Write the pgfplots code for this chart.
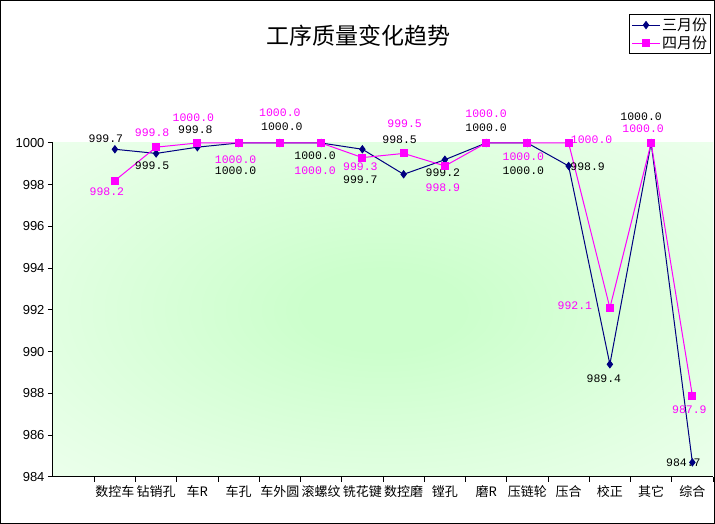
\documentclass[border=0pt]{standalone}
\usepackage{fontspec}
\setmainfont{Liberation Sans}
\newfontfamily\cjk{Noto Sans CJK SC}
\newfontfamily\mono{Liberation Mono}
\usepackage{pgfplots}
\usepackage{pgfplotstable}
\pgfplotsset{compat=1.18}
\definecolor{navy}{RGB}{0,0,128}
\definecolor{mag}{RGB}{255,0,255}
\definecolor{bgc}{RGB}{204,255,204}
\definecolor{bgm}{RGB}{228,255,228}
\definecolor{bge}{RGB}{250,255,250}
\pgfdeclareradialshading{bggrad}{\pgfpointorigin}{color(0bp)=(bgc); color(6bp)=(bgc); color(28bp)=(bgm); color(50bp)=(bge)}

\pgfplotstableread{
x y dx dy
1 999.7 -9 11
2 999.5 -4 -12
3 999.8 -2 17
4 1000.0 -3 -28
5 1000.0 2 16
6 1000.0 -6 -13
7 999.7 -2 -30
8 998.5 -4 35
9 999.2 -2 -13
10 1000.0 0 15
11 1000.0 -4 -28
12 998.9 19 -1
13 989.4 -6 -14
14 1000.0 -10 26
15 984.7 -9 0
}\march

\pgfplotstableread{
x y dx dy
1 998.2 -8 -11
2 999.8 -4 14
3 1000.0 -4 25
4 1000.0 -3 -17
5 1000.0 0 30
6 1000.0 -6 -28
7 999.3 -2 -9
8 999.5 1 30
9 998.9 -2 -22
10 1000.0 0 29
11 1000.0 -4 -14
12 1000.0 23 3
13 992.1 -35 2
14 1000.0 -8 14
15 987.9 -3 -14
}\april

\begin{document}
\begin{tikzpicture}
\useasboundingbox (-53pt,-47pt) rectangle (662pt,477pt);
\draw[line width=1pt] (-52.5pt,-46.5pt) rectangle (661.5pt,476.5pt);
\begin{axis}[
  at={(0,0)}, anchor=south west,
  scale only axis, width=660pt, height=334pt,
  xmin=-0.5, xmax=15.5, ymin=984, ymax=1000,
  axis lines*=left,
  axis line style={line width=1pt, black},
  tick align=outside, major tick length=5pt,
  tick style={black, line width=1pt},
  xtick={0.5,1.5,...,15.5},
  x tick label as interval,
  xticklabels={数控车,钻销孔,车R,车孔,车外圆,滚螺纹,铣花键,数控磨,镗孔,磨R,压链轮,压合,校正,其它,综合},
  xticklabel style={font=\cjk\fontsize{13}{15}\selectfont},
  ytick={984,986,...,1000},
  yticklabel style={font=\fontsize{13}{15}\selectfont},
  /pgf/number format/assume math mode=true,
  /pgf/number format/1000 sep={},
  clip=false,
  axis background/.style={shading=bggrad},
  legend style={at={(0.997,1.386)}, anchor=north east, draw=black, line width=1pt,
    font=\cjk\fontsize{15}{17}\selectfont, inner sep=2pt, row sep=1pt,
    nodes={inner sep=1.5pt}},
  legend cell align=left,
  legend image code/.code={\draw[mark repeat=2,mark phase=2,#1] plot coordinates {(0pt,0pt) (14pt,0pt) (28pt,0pt)};},
]
\addplot[navy, line width=1pt, mark=diamond*, mark size=3.5pt, mark options={solid, fill=navy},
  nodes near coords={\pgfmathprintnumber[fixed,fixed zerofill,precision=1,1000 sep={},assume math mode=true]{\pgfplotspointmeta}},
  visualization depends on={\thisrow{dx}\as\mydx},
  visualization depends on={\thisrow{dy}\as\mydy},
  every node near coord/.append style={text=black, font=\mono\fontsize{11.5}{13}\selectfont, anchor=center, xshift=\mydx pt, yshift=\mydy pt}]
  table[x=x,y=y] {\march};
\addlegendentry{三月份}
\addplot[mag, line width=1pt, mark=square*, mark size=3.5pt, mark options={solid, fill=mag},
  nodes near coords={\pgfmathprintnumber[fixed,fixed zerofill,precision=1,1000 sep={},assume math mode=true]{\pgfplotspointmeta}},
  visualization depends on={\thisrow{dx}\as\mydx},
  visualization depends on={\thisrow{dy}\as\mydy},
  every node near coord/.append style={text=mag, font=\mono\fontsize{11.5}{13}\selectfont, anchor=center, xshift=\mydx pt, yshift=\mydy pt}]
  table[x=x,y=y] {\april};
\addlegendentry{四月份}
\end{axis}
\node[font=\cjk\fontsize{23}{25}\selectfont] at (305pt,441pt) {工序质量变化趋势};
\end{tikzpicture}
\end{document}
